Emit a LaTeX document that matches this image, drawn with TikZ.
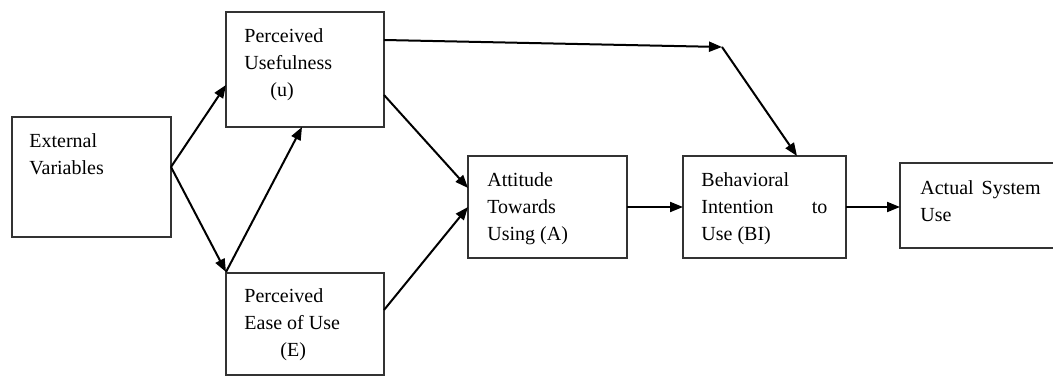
\documentclass[tikz,border=0pt]{standalone}
\usepackage{fontspec}
\setmainfont{Liberation Serif}
\usepackage{tikz}
\usetikzlibrary{arrows.meta}
\usetikzlibrary{positioning}

\begin{document}
\begin{tikzpicture}[x=0.5pt,y=-0.5pt]%[every node/.style={minimum size=1cm}]
\newcommand*{\boxw}{79pt}
\newcommand*{\boxh}{51pt}
\tikzset{
  box/.style={draw=black!80, line width=0.7pt, inner sep=0pt, outer sep=0pt},
  txt/.style={anchor=base west, align=left, inner sep=0pt,
    font=\fontsize{10pt}{13.5pt}\selectfont},
  arr/.style={line width=1pt, -{Triangle[length=6.5pt,width=5pt]}}
}
\useasboundingbox (0,0) rectangle (1053,378);
\begin{scope}
  \node[box, minimum width=79.5pt, minimum height=60pt] (ev) at (91.5,177) {};
  \node[box, minimum width=\boxw, minimum height=57.5pt] (pu) at (305,69.5) {};
  \node[box, minimum width=\boxw, minimum height=\boxh] (pe) at (305,324) {};
  \node[box, minimum width=79.5pt, minimum height=\boxh] (att) at (547.5,207) {};
  \node[box, minimum width=81.5pt, minimum height=\boxh] (bi) at (764.5,207) {};
  \node[box, minimum width=82.5pt, minimum height=42.5pt] (act) at (982.5,205.5) {};

  % base of a text node is its last line
  \node[txt] (ev-t) at ([shift={(17,58)}]ev.north west) {External\\Variables};
  \node[txt] (pu-t) at ([shift={(18,85)}]pu.north west) {Perceived\\Usefulness\\\hspace*{13pt}(u)};
  \node[txt] (pe-t) at ([shift={(18,84)}]pe.north west) {Perceived\\Ease of Use\\\hspace*{18pt}(E)};
  \node[txt] (att-t) at ([shift={(19,85)}]att.north west) {Attitude\\Towards\\Using (A)};
  \node[txt] (bi-t) at ([shift={(18,85)}]bi.north west) {Behavioral\\\makebox[63pt][l]{Intention\hfill to}\\Use (BI)};
  \node[txt] (act-t) at ([shift={(20,59)}]act.north west) {Actual\hspace{0.4em}System\\Use};
\end{scope}

% connectors
\coordinate (ev-out) at ([shift={(0,-10)}]ev.east);
\coordinate (bend) at (722,47);
\draw[arr] (ev-out) -- ([shift={(0,15.5)}]pu.west);
\draw[arr] (ev-out) -- ([shift={(0,-1)}]pe.north west);
\draw[arr] ([shift={(0,-1)}]pe.north west) -- ([shift={(-3,0)}]pu.south);
\draw[arr] ([shift={(0,25.5)}]pu.east) -- ([shift={(0,-19)}]att.west);
\draw[arr] ([shift={(0,-14)}]pe.east) -- (att.west);
\draw[arr] ([shift={(0,-29.5)}]pu.east) -- (bend);
\draw[arr] (bend) -- ([shift={(32.5,0)}]bi.north);
\draw[arr] (att.east) -- (bi.west);
\draw[arr] (bi.east) -- (act.west |- bi.east);
\end{tikzpicture}
\end{document}
